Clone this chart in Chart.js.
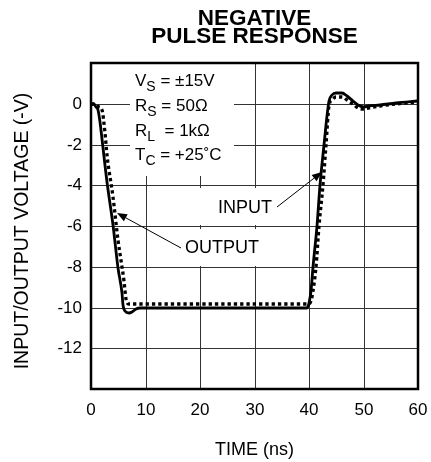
<!DOCTYPE html>
<html>
<head>
<meta charset="utf-8">
<title>Negative Pulse Response</title>
<script src="https://cdn.jsdelivr.net/npm/chart.js@4.4.1/dist/chart.umd.min.js"></script>
<style>
  html, body { margin: 0; padding: 0; background: #fff; }
  canvas { display: block; }
</style>
</head>
<body>
<canvas id="pulseChart" width="431" height="462"></canvas>
<script>
// ── Data ──────────────────────────────────────────────────────────────────────
const inputTime  = [0, 0.5, 1, 1.3, 1.6, 2, 3, 4, 5, 5.6, 5.9, 6.3, 7.0, 7.6, 8.2, 9, 20, 30, 39.6,
                    40, 40.4, 40.8, 41.4, 42.1, 42.8, 43.3, 43.7, 44.3, 45, 46, 47, 48, 49, 50, 51, 53, 56, 60];
const inputVolts = [0, -0.03, -0.14, -0.3, -0.9, -1.75, -3.85, -5.95, -8.05, -9.3, -9.9, -10.15, -10.25, -10.2, -10.05, -10, -10, -10, -10,
                    -9.8, -9.2, -8.0, -6.0, -4.0, -2.0, -0.6, 0.15, 0.45, 0.55, 0.55, 0.4, 0.15, -0.05, -0.15, -0.12, -0.05, 0.05, 0.15];

const outputTime  = [0, 0.5, 1, 1.5, 1.95, 2.5, 3, 4, 5, 6, 6.5, 7.0, 7.6, 8.5, 20, 30, 39.9,
                     40.3, 40.8, 41.3, 41.8, 42.5, 43.1, 43.7, 44.2, 45, 46, 47, 48, 49, 50, 51, 53, 56, 60];
const outputVolts = [0, -0.02, -0.06, -0.15, -0.3, -1.45, -2.5, -4.6, -6.7, -8.7, -9.6, -9.85, -9.85, -9.83, -9.83, -9.83, -9.83,
                     -9.7, -9.2, -8.0, -6.0, -4.0, -2.0, -0.1, 0.2, 0.35, 0.35, 0.2, 0.0, -0.2, -0.25, -0.2, -0.1, 0.0, 0.1];

const timeTicks = [0, 10, 20, 30, 40, 50, 60];
const voltTicks = [0, -2, -4, -6, -8, -10, -12];

const conditions = [
    ['V', 'S', ' = \u00b115V'],
    ['R', 'S', ' = 50\u03a9'],
    ['R', 'L', '  = 1k\u03a9'],
    ['T', 'C', ' = +25\u02daC']
];

// ── Layout (data units) ───────────────────────────────────────────────────────
const FONT = '"Liberation Sans", Arial, Helvetica, sans-serif';
const condBox   = [7.2, 26.2, 2, -3.55];      // t0, t1, v0, v1
const condLeft  = 8.1;
const condBase  = [0.88, -0.34, -1.57, -2.75];
const labels = [
    { text: 'INPUT',  t: 28.3, v: -5.1, box: [19.3, 38.3, -4.12, -5.93], from: [34.1, -5.05], to: [42.45, -3.33] },
    { text: 'OUTPUT', t: 24.0, v: -7.1, box: [16.0, 36.5, -6.13, -7.94], from: [16.5, -7.1],  to: [4.85, -5.35] }
];

function toPx(chart, t, v) {
    return [chart.scales.x.getPixelForValue(t), chart.scales.y.getPixelForValue(v)];
}

function fillBox(chart, b) {
    const [x0, y0] = toPx(chart, b[0], b[2]);
    const [x1, y1] = toPx(chart, b[1], b[3]);
    chart.ctx.fillRect(x0, y0, x1 - x0, y1 - y0);
}

function drawArrow(ctx, x0, y0, x1, y1) {
    const ang = Math.atan2(y1 - y0, x1 - x0);
    const len = 10, half = 4;
    ctx.beginPath();
    ctx.moveTo(x0, y0);
    ctx.lineTo(x1 - len * Math.cos(ang), y1 - len * Math.sin(ang));
    ctx.lineWidth = 1;
    ctx.stroke();
    ctx.beginPath();
    ctx.moveTo(x1, y1);
    ctx.lineTo(x1 - len * Math.cos(ang) + half * Math.sin(ang), y1 - len * Math.sin(ang) - half * Math.cos(ang));
    ctx.lineTo(x1 - len * Math.cos(ang) - half * Math.sin(ang), y1 - len * Math.sin(ang) + half * Math.cos(ang));
    ctx.closePath();
    ctx.fill();
}

// ── Plugin: white label areas, box frame, texts ───────────────────────────────
const annotate = {
    id: 'annotate',
    beforeDatasetsDraw(chart) {
        const ctx = chart.ctx;
        ctx.save();
        ctx.fillStyle = '#fff';
        fillBox(chart, condBox);
        labels.forEach(l => fillBox(chart, l.box));
        ctx.restore();
    },
    afterDraw(chart) {
        const ctx = chart.ctx;
        const area = chart.chartArea;
        ctx.save();
        ctx.strokeStyle = '#000';
        ctx.fillStyle = '#000';

        // frame
        ctx.lineWidth = 2.5;
        ctx.strokeRect(area.left, area.top, area.right - area.left, area.bottom - area.top);

        // title
        const cx = (area.left + area.right) / 2;
        ctx.textAlign = 'center';
        ctx.textBaseline = 'alphabetic';
        ctx.font = 'bold 22.5px ' + FONT;
        ctx.fillText('NEGATIVE', cx, 25);
        ctx.fillText('PULSE RESPONSE', cx, 43);

        // axis titles
        ctx.font = '18px ' + FONT;
        ctx.fillText('TIME (ns)', cx, 455);
        ctx.save();
        ctx.translate(23, 231);
        ctx.rotate(-Math.PI / 2);
        ctx.textBaseline = 'middle';
        ctx.font = '19.5px ' + FONT;
        ctx.fillText('INPUT/OUTPUT VOLTAGE (-V)', 0, 0);
        ctx.restore();

        // test conditions
        ctx.textAlign = 'left';
        conditions.forEach((c, i) => {
            let [x, y] = toPx(chart, condLeft, condBase[i]);
            ctx.font = '17px ' + FONT;
            ctx.fillText(c[0], x, y);
            x += ctx.measureText(c[0]).width;
            ctx.font = '14px ' + FONT;
            ctx.fillText(c[1], x, y + 5);
            x += ctx.measureText(c[1]).width;
            ctx.font = '17px ' + FONT;
            ctx.fillText(c[2], x, y);
        });

        // INPUT / OUTPUT callouts
        ctx.font = '18px ' + FONT;
        ctx.textAlign = 'center';
        ctx.textBaseline = 'middle';
        labels.forEach(l => {
            const [tx, ty] = toPx(chart, l.t, l.v);
            ctx.fillText(l.text, tx, ty);
            const [ax, ay] = toPx(chart, l.from[0], l.from[1]);
            const [bx, by] = toPx(chart, l.to[0], l.to[1]);
            drawArrow(ctx, ax, ay, bx, by);
        });
        ctx.restore();
    }
};

// ── Chart ─────────────────────────────────────────────────────────────────────
const ctx = document.getElementById('pulseChart');

new Chart(ctx, {
    type: 'line',
    data: {
        datasets: [
            {
                label: 'Input',
                data: inputTime.map((t, i) => ({ x: t, y: inputVolts[i] })),
                borderColor: '#000',
                borderWidth: 2.8,
                pointRadius: 0,
                cubicInterpolationMode: 'monotone',
                fill: false
            },
            {
                label: 'Output',
                data: outputTime.map((t, i) => ({ x: t, y: outputVolts[i] })),
                borderColor: '#000',
                borderWidth: 3.3,
                borderDash: [3.3, 3],
                borderCapStyle: 'butt',
                pointRadius: 0,
                cubicInterpolationMode: 'monotone',
                fill: false
            }
        ]
    },
    options: {
        responsive: false,
        animation: false,
        devicePixelRatio: 1,
        layout: { padding: { top: 63, right: 13, left: 0, bottom: 0 } },
        plugins: {
            legend: { display: false },
            title: { display: false },
            tooltip: { enabled: false }
        },
        scales: {
            x: {
                type: 'linear',
                min: timeTicks[0],
                max: timeTicks[timeTicks.length - 1],
                alignToPixels: true,
                afterFit: s => { s.height = 73; s.paddingLeft = 0; s.paddingRight = 0; },
                afterBuildTicks: s => { s.ticks = timeTicks.map(v => ({ value: v })); },
                ticks: {
                    color: '#000',
                    padding: 11,
                    font: { family: FONT, size: 17 }
                },
                grid: { color: '#333', lineWidth: 1, drawTicks: false },
                border: { display: false }
            },
            y: {
                type: 'linear',
                min: -14,
                max: 2,
                alignToPixels: true,
                afterFit: s => { s.width = 91; s.paddingTop = 0; s.paddingBottom = 0; },
                afterBuildTicks: s => { s.ticks = voltTicks.map(v => ({ value: v })); },
                ticks: {
                    color: '#000',
                    padding: 9,
                    font: { family: FONT, size: 17 }
                },
                grid: { color: '#333', lineWidth: 1, drawTicks: false },
                border: { display: false }
            }
        }
    },
    plugins: [annotate]
});
</script>
</body>
</html>
